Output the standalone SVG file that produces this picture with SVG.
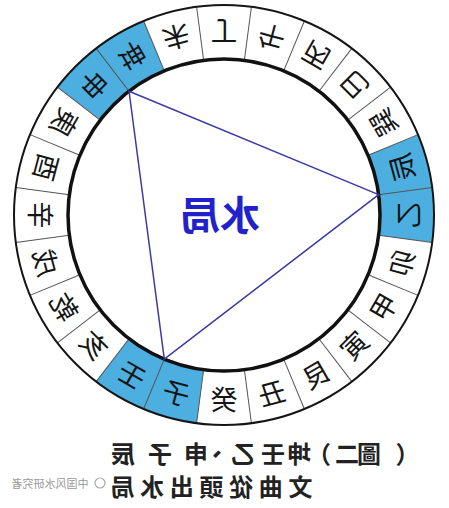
<svg xmlns="http://www.w3.org/2000/svg" width="449" height="508" viewBox="0 0 449 508">
<style>
.ring{fill:none;stroke:#151515;stroke-width:2}
.inner{fill:none;stroke:#111;stroke-width:3.5}
.div{stroke:#555;stroke-width:1}
.blue{fill:#4dafe0}
.ch{font-family:"Noto Sans CJK TC","Noto Sans CJK SC",sans-serif;font-size:27px;fill:#151515;text-anchor:middle;dominant-baseline:central}
.tri{fill:none;stroke:#3b3ba6;stroke-width:1.5}
.center{font-family:"Noto Sans CJK TC",sans-serif;font-size:40px;font-weight:700;fill:#2222cc;text-anchor:middle;dominant-baseline:central}
.cap{font-family:"Noto Sans CJK TC",sans-serif;font-size:24px;font-weight:700;fill:#222;text-anchor:middle;dominant-baseline:central}
.wm{font-family:"Noto Sans CJK SC",sans-serif;font-size:11px;fill:#9a9a9a;text-anchor:middle;dominant-baseline:central}
</style>
<rect width="449" height="508" fill="#ffffff"/>
<g id="diagram" transform="matrix(-1 0 0 1 449 0)">
  <g id="sectors">
    <path class="blue" d="M 305.36 20.99 A 210 210 0 0 1 391.60 87.16 L 348.76 120.03 A 156 156 0 0 0 284.70 70.87 Z"/>
    <path class="blue" d="M 16.80 242.41 A 210 210 0 0 1 30.99 134.64 L 80.87 155.30 A 156 156 0 0 0 70.34 235.36 Z"/>
    <path class="blue" d="M 352.84 381.60 A 210 210 0 0 1 252.41 423.20 L 245.36 369.66 A 156 156 0 0 0 319.97 338.76 Z"/>
  </g>
  <g id="dividers">
    <line class="div" x1="381" y1="215" x2="435" y2="215" transform="rotate(-97.5 225 215)"/>
    <line class="div" x1="381" y1="215" x2="435" y2="215" transform="rotate(-82.5 225 215)"/>
    <line class="div" x1="381" y1="215" x2="435" y2="215" transform="rotate(-67.5 225 215)"/>
    <line class="div" x1="381" y1="215" x2="435" y2="215" transform="rotate(-52.5 225 215)"/>
    <line class="div" x1="381" y1="215" x2="435" y2="215" transform="rotate(-37.5 225 215)"/>
    <line class="div" x1="381" y1="215" x2="435" y2="215" transform="rotate(-22.5 225 215)"/>
    <line class="div" x1="381" y1="215" x2="435" y2="215" transform="rotate(-7.5 225 215)"/>
    <line class="div" x1="381" y1="215" x2="435" y2="215" transform="rotate(7.5 225 215)"/>
    <line class="div" x1="381" y1="215" x2="435" y2="215" transform="rotate(22.5 225 215)"/>
    <line class="div" x1="381" y1="215" x2="435" y2="215" transform="rotate(37.5 225 215)"/>
    <line class="div" x1="381" y1="215" x2="435" y2="215" transform="rotate(52.5 225 215)"/>
    <line class="div" x1="381" y1="215" x2="435" y2="215" transform="rotate(67.5 225 215)"/>
    <line class="div" x1="381" y1="215" x2="435" y2="215" transform="rotate(82.5 225 215)"/>
    <line class="div" x1="381" y1="215" x2="435" y2="215" transform="rotate(97.5 225 215)"/>
    <line class="div" x1="381" y1="215" x2="435" y2="215" transform="rotate(112.5 225 215)"/>
    <line class="div" x1="381" y1="215" x2="435" y2="215" transform="rotate(127.5 225 215)"/>
    <line class="div" x1="381" y1="215" x2="435" y2="215" transform="rotate(142.5 225 215)"/>
    <line class="div" x1="381" y1="215" x2="435" y2="215" transform="rotate(157.5 225 215)"/>
    <line class="div" x1="381" y1="215" x2="435" y2="215" transform="rotate(172.5 225 215)"/>
    <line class="div" x1="381" y1="215" x2="435" y2="215" transform="rotate(187.5 225 215)"/>
    <line class="div" x1="381" y1="215" x2="435" y2="215" transform="rotate(202.5 225 215)"/>
    <line class="div" x1="381" y1="215" x2="435" y2="215" transform="rotate(217.5 225 215)"/>
    <line class="div" x1="381" y1="215" x2="435" y2="215" transform="rotate(232.5 225 215)"/>
    <line class="div" x1="381" y1="215" x2="435" y2="215" transform="rotate(247.5 225 215)"/>
  </g>
  <g id="rings">
    <circle class="ring" cx="225" cy="215" r="210"/>
    <circle class="inner" cx="225" cy="215" r="156"/>
  </g>
  <g id="connectors">
    <polygon class="tri" points="70.34,194.64 319.97,91.24 284.70,359.13"/>
  </g>
  <g id="cell-ding"><text class="ch" x="408" y="215" transform="rotate(-90 225 215) rotate(-90 408 215)">丁</text></g>
  <g id="cell-wei"><text class="ch" x="408" y="215" transform="rotate(-75 225 215) rotate(-90 408 215)">未</text></g>
  <g id="cell-kun"><text class="ch" x="408" y="215" transform="rotate(-60 225 215) rotate(-90 408 215)">坤</text></g>
  <g id="cell-shen"><text class="ch" x="408" y="215" transform="rotate(-45 225 215) rotate(-90 408 215)">申</text></g>
  <g id="cell-geng"><text class="ch" x="408" y="215" transform="rotate(-30 225 215) rotate(-90 408 215)">庚</text></g>
  <g id="cell-you"><text class="ch" x="408" y="215" transform="rotate(-15 225 215) rotate(-90 408 215)">酉</text></g>
  <g id="cell-xin"><text class="ch" x="408" y="215" transform="rotate(0 225 215) rotate(-90 408 215)">辛</text></g>
  <g id="cell-xu"><text class="ch" x="408" y="215" transform="rotate(15 225 215) rotate(-90 408 215)">戌</text></g>
  <g id="cell-qian"><text class="ch" x="408" y="215" transform="rotate(30 225 215) rotate(-90 408 215)">乾</text></g>
  <g id="cell-hai"><text class="ch" x="408" y="215" transform="rotate(45 225 215) rotate(-90 408 215)">亥</text></g>
  <g id="cell-ren"><text class="ch" x="408" y="215" transform="rotate(60 225 215) rotate(-90 408 215)">壬</text></g>
  <g id="cell-zi"><text class="ch" x="408" y="215" transform="rotate(75 225 215) rotate(-90 408 215)">子</text></g>
  <g id="cell-gui"><text class="ch" x="408" y="215" transform="rotate(90 225 215) rotate(-90 408 215)">癸</text></g>
  <g id="cell-chou"><text class="ch" x="408" y="215" transform="rotate(105 225 215) rotate(-90 408 215)">丑</text></g>
  <g id="cell-gen"><text class="ch" x="408" y="215" transform="rotate(120 225 215) rotate(-90 408 215)">艮</text></g>
  <g id="cell-yin"><text class="ch" x="408" y="215" transform="rotate(135 225 215) rotate(-90 408 215)">寅</text></g>
  <g id="cell-jia"><text class="ch" x="408" y="215" transform="rotate(150 225 215) rotate(-90 408 215)">甲</text></g>
  <g id="cell-mao"><text class="ch" x="408" y="215" transform="rotate(165 225 215) rotate(-90 408 215)">卯</text></g>
  <g id="cell-yi"><text class="ch" x="408" y="215" transform="rotate(180 225 215) rotate(-90 408 215)">乙</text></g>
  <g id="cell-chen"><text class="ch" x="408" y="215" transform="rotate(195 225 215) rotate(-90 408 215)">辰</text></g>
  <g id="cell-xun"><text class="ch" x="408" y="215" transform="rotate(210 225 215) rotate(-90 408 215)">巽</text></g>
  <g id="cell-si"><text class="ch" x="408" y="215" transform="rotate(225 225 215) rotate(-90 408 215)">巳</text></g>
  <g id="cell-bing"><text class="ch" x="408" y="215" transform="rotate(240 225 215) rotate(-90 408 215)">丙</text></g>
  <g id="cell-wu"><text class="ch" x="408" y="215" transform="rotate(255 225 215) rotate(-90 408 215)">午</text></g>
  <g id="center-label"><text class="center" x="229" y="213">水局</text></g>
  <g id="caption">
    <text class="cap" y="452" x="41.5 80 102 130 150 176 206 232 253 289 326">（圖二）坤壬乙、申子辰</text>
    <text class="cap" y="485" x="148.5 178.2 207.9 237.6 267.3 297 326.5">文曲從頭出水局</text>
  </g>
  <g id="watermark">
    <circle cx="349" cy="483" r="5" fill="none" stroke="#aaa" stroke-width="1.2"/>
    <text class="wm" x="399" y="483">中国风水研究者</text>
  </g>
</g>
</svg>
